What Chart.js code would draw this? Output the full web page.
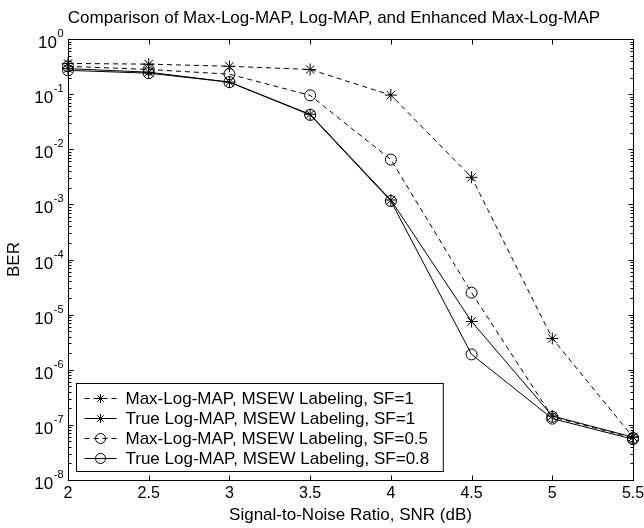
<!DOCTYPE html>
<html><head><meta charset="utf-8">
<script src="https://cdn.jsdelivr.net/npm/chart.js@4"></script>
<style>html,body{margin:0;padding:0;background:#fff}#wrap{width:644px;height:528px}</style>
</head><body><div id="wrap"><canvas id="c" width="644" height="528"></canvas></div>
<script>
// ---- data ----
const snr = [2, 2.5, 3, 3.5, 4, 4.5, 5, 5.5];
const maxLogSF1   = [0.36, 0.35, 0.32, 0.28, 0.096, 3.1e-3, 3.7e-6, 6.0e-8];
const trueLogSF1  = [0.29, 0.25, 0.165, 0.043, 1.2e-3, 7.5e-6, 1.45e-7, 6.0e-8];
const maxLogSF05  = [0.32, 0.28, 0.23, 0.095, 6.5e-3, 2.5e-5, 1.4e-7, 5.8e-8];
const trueLogSF08 = [0.27, 0.24, 0.165, 0.042, 1.15e-3, 1.9e-6, 1.3e-7, 5.5e-8];
const seriesLabels = [
  'Max-Log-MAP, MSEW Labeling, SF=1',
  'True Log-MAP, MSEW Labeling, SF=1',
  'Max-Log-MAP, MSEW Labeling, SF=0.5',
  'True Log-MAP, MSEW Labeling, SF=0.8'
];
const xTickValues = [2, 2.5, 3, 3.5, 4, 4.5, 5, 5.5];
const yDecadeExps = [-8, -7, -6, -5, -4, -3, -2, -1, 0];
const titleText = 'Comparison of Max-Log-MAP, Log-MAP, and Enhanced Max-Log-MAP';
const xTitle = 'Signal-to-Noise Ratio, SNR (dB)';
const yTitle = 'BER';

const FONT = '"Liberation Sans", Arial, Helvetica, sans-serif';

const styles = [
  {dash:[5,4], point:'star', r:6, lr:4.5},
  {dash:[], point:'star', r:6, lr:4.5},
  {dash:[5,4], point:'circle', r:5.5, lr:5},
  {dash:[], point:'circle', r:5.5, lr:5}
];
const seriesData = [maxLogSF1, trueLogSF1, maxLogSF05, trueLogSF08];

const datasets = seriesData.map((vals, i) => ({
  label: seriesLabels[i],
  data: snr.map((x, j) => ({x, y: vals[j]})),
  borderColor: '#000',
  borderWidth: 1,
  borderDash: styles[i].dash,
  pointStyle: styles[i].point,
  pointRadius: styles[i].r,
  pointBorderWidth: 1,
  pointBorderColor: '#000',
  pointBackgroundColor: 'rgba(0,0,0,0)',
  backgroundColor: 'rgba(0,0,0,0)',
  fill: false,
  tension: 0,
  clip: false,
  legendRadius: styles[i].lr
}));

const framePlugin = {
  id: 'frame',
  afterDraw(chart) {
    const ctx = chart.ctx;
    const a = chart.chartArea;
    const xs = chart.scales.x, ys = chart.scales.y;
    ctx.save();
    ctx.strokeStyle = '#000';
    ctx.lineWidth = 1;
    ctx.setLineDash([]);
    const L = Math.round(a.left) + 0.5, R = Math.round(a.right) + 0.5;
    const T = Math.round(a.top) + 0.5, B = Math.round(a.bottom) + 0.5;
    ctx.strokeRect(L, T, R - L, B - T);
    ctx.beginPath();
    xTickValues.forEach(v => {
      const px = Math.round(xs.getPixelForValue(v)) + 0.5;
      ctx.moveTo(px, B); ctx.lineTo(px, B - 5);
      ctx.moveTo(px, T); ctx.lineTo(px, T + 5);
    });
    yDecadeExps.forEach(e => {
      const py = Math.round(ys.getPixelForValue(Math.pow(10, e))) + 0.5;
      ctx.moveTo(L, py); ctx.lineTo(L + 5, py);
      ctx.moveTo(R, py); ctx.lineTo(R - 5, py);
      if (e < 0) {
        for (let k = 2; k <= 9; k++) {
          const pm = Math.round(ys.getPixelForValue(k * Math.pow(10, e))) + 0.5;
          ctx.moveTo(L, pm); ctx.lineTo(L + 3, pm);
          ctx.moveTo(R, pm); ctx.lineTo(R - 3, pm);
        }
      }
    });
    ctx.stroke();

    // y tick labels: 10 with superscript exponent
    ctx.fillStyle = '#000';
    ctx.textBaseline = 'alphabetic';
    ctx.textAlign = 'right';
    yDecadeExps.forEach(e => {
      const py = ys.getPixelForValue(Math.pow(10, e));
      const exp = String(e);
      ctx.font = '11px ' + FONT;
      const ew = ctx.measureText(exp).width;
      const rightEdge = L - 5;
      ctx.fillText(exp, rightEdge, py - 2);
      ctx.font = '17px ' + FONT;
      ctx.fillText('10', rightEdge - ew - 0.5, py + 9);
    });

    // title
    ctx.font = '17px ' + FONT;
    ctx.textAlign = 'center';
    ctx.textBaseline = 'middle';
    ctx.fillText(titleText, (L + R) / 2 - 17, 18);

    // legend
    const lx = Math.round(a.left) + 8.5;
    const lbottom = Math.round(a.bottom) - 8.5;
    const rowH = 20;
    const n = chart.data.datasets.length;
    ctx.font = '17px ' + FONT;
    let maxW = 0;
    chart.data.datasets.forEach(d => { maxW = Math.max(maxW, ctx.measureText(d.label).width); });
    const textX = lx + 49;
    const boxW = 49 + maxW + 14;
    const boxH = rowH * n + 8;
    const ltop = lbottom - boxH;
    ctx.fillStyle = '#fff';
    ctx.fillRect(lx, ltop, boxW, boxH);
    ctx.strokeStyle = '#000';
    ctx.strokeRect(lx, ltop, boxW, boxH);
    chart.data.datasets.forEach((d, i) => {
      const cy = Math.round(ltop + 14 + i * rowH) + 0.5;
      ctx.setLineDash(d.borderDash || []);
      ctx.beginPath();
      ctx.moveTo(lx + 8, cy);
      ctx.lineTo(lx + 40, cy);
      ctx.stroke();
      ctx.setLineDash([]);
      ctx.fillStyle = 'rgba(0,0,0,0)';
      Chart.helpers.drawPoint(ctx, {pointStyle: d.pointStyle, radius: d.legendRadius, borderWidth: 1, rotation: 0}, lx + 24, cy);
      ctx.fillStyle = '#000';
      ctx.textAlign = 'left';
      ctx.textBaseline = 'middle';
      ctx.fillText(d.label, textX, cy + 1);
    });
    ctx.restore();
  }
};

new Chart(document.getElementById('c'), {
  type: 'line',
  data: { datasets },
  options: {
    responsive: false,
    animation: false,
    devicePixelRatio: 1,
    layout: { padding: { top: 39, right: 11, left: 0, bottom: 0 } },
    plugins: { legend: { display: false }, title: { display: false }, tooltip: { enabled: false } },
    scales: {
      x: {
        type: 'linear', min: 2, max: 5.5,
        afterBuildTicks: s => { s.ticks = xTickValues.map(v => ({value: v})); },
        afterFit: s => { s.height = 48; s.paddingLeft = 0; s.paddingRight = 0; },
        grid: { display: false, drawTicks: false },
        border: { display: false },
        ticks: { color: '#000', font: { family: FONT, size: 16 }, padding: 4, maxRotation: 0, autoSkip: false,
                 callback: v => String(v) },
        title: { display: true, text: xTitle, color: '#000', font: { family: FONT, size: 17 }, padding: { top: 0, bottom: 2 } }
      },
      y: {
        type: 'logarithmic', min: 1e-8, max: 1,
        afterBuildTicks: s => { s.ticks = yDecadeExps.map(e => ({value: Math.pow(10, e)})); },
        afterFit: s => { s.width = 68; s.paddingTop = 0; s.paddingBottom = 0; },
        grid: { display: false, drawTicks: false },
        border: { display: false },
        ticks: { display: false },
        title: { display: true, text: yTitle, color: '#000', font: { family: FONT, size: 17 }, padding: { top: 4, bottom: 0 } }
      }
    }
  },
  plugins: [framePlugin]
});
</script>
</body></html>
